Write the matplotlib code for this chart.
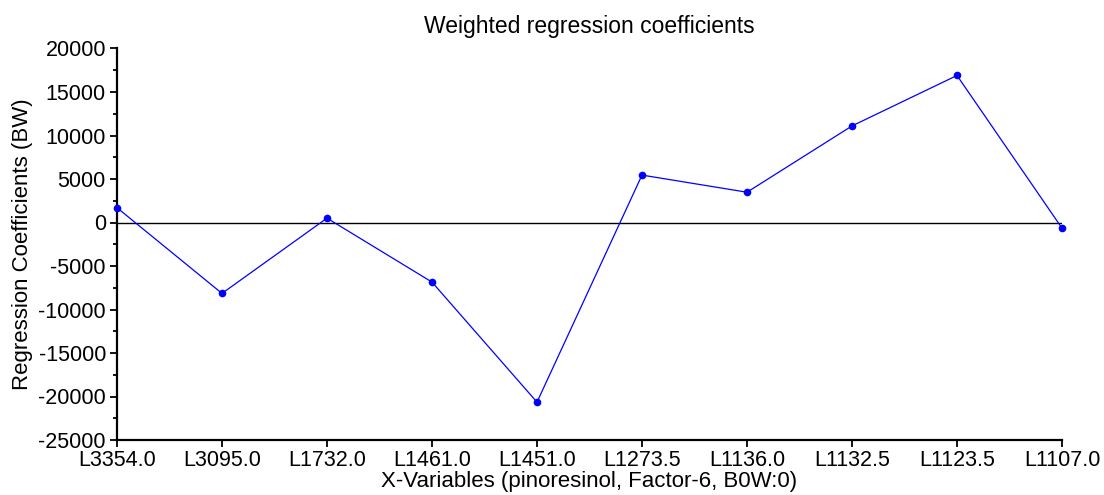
import matplotlib
matplotlib.use("Agg")
import matplotlib.pyplot as plt
from matplotlib.ticker import MultipleLocator

plt.rcParams['font.family'] = ['Liberation Sans', 'DejaVu Sans']
plt.rcParams['axes.unicode_minus'] = False

variables = ["L3354.0", "L3095.0", "L1732.0", "L1461.0", "L1451.0",
             "L1273.5", "L1136.0", "L1132.5", "L1123.5", "L1107.0"]
coefficients = [1700, -8150, 500, -6850, -20650, 5450, 3480, 11100, 16900, -650]

fig = plt.figure(figsize=(11.04, 4.95), dpi=100)
ax = fig.add_axes([117/1104, 1 - 440/495, (1062 - 117)/1104, (440 - 48.5)/495])

x = list(range(len(variables)))
ax.axhline(0, color="black", lw=1.0, zorder=1)
ax.plot(x, coefficients, color="#0000ff", lw=0.9, marker="o", markersize=5.5,
        markeredgewidth=0, zorder=3, clip_on=False)

ax.set_xlim(0, len(variables) - 1)
ax.set_ylim(-25000, 20000)
ax.set_xticks(x)
ax.set_xticklabels(variables)
ax.yaxis.set_major_locator(MultipleLocator(5000))
ax.yaxis.set_minor_locator(MultipleLocator(2500))

for side in ("top", "right"):
    ax.spines[side].set_visible(False)
for side in ("left", "bottom"):
    ax.spines[side].set_linewidth(1.6)

ax.tick_params(axis="both", which="major", direction="out", length=5, width=1.3,
               labelsize=15.5, pad=3)
ax.tick_params(axis="x", which="major", pad=2)
ax.tick_params(axis="y", which="minor", direction="out", length=3, width=1.3)

ax.set_title("Weighted regression coefficients", fontsize=16.5, pad=11)
ax.set_ylabel("Regression Coefficients (BW)", fontsize=16, labelpad=4)
ax.set_xlabel("X-Variables (pinoresinol, Factor-6, B0W:0)", fontsize=16, labelpad=0.5)

fig.savefig("out.png", dpi=100)
